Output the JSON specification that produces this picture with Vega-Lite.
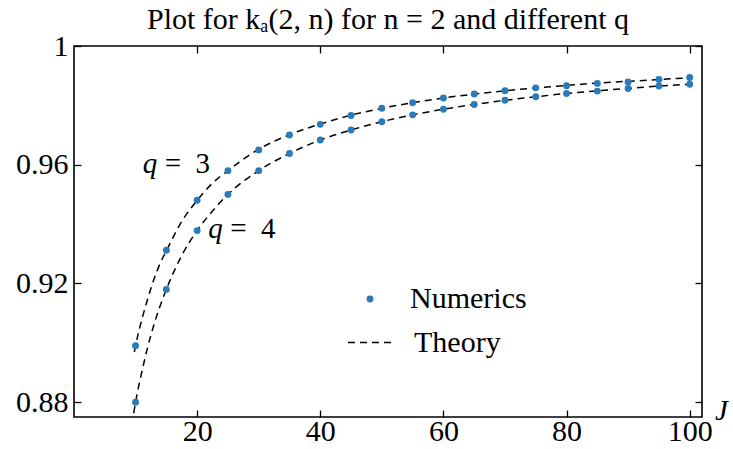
{
  "$schema": "https://vega.github.io/schema/vega-lite/v6.json",
  "width": 628,
  "height": 371,
  "autosize": {"type": "none"},
  "padding": {"left": 74, "top": 46, "right": 31, "bottom": 32},
  "background": "white",
  "title": {
    "text": "Plot for kₐ(2, n) for n = 2 and different q",
    "font": "Liberation Serif",
    "fontSize": 30,
    "fontWeight": "normal",
    "color": "black",
    "anchor": "middle",
    "baseline": "alphabetic",
    "offset": 0,
    "dy": 28
  },
  "config": {
    "view": {"stroke": "black", "strokeWidth": 1.6},
    "axis": {
      "labelFont": "Liberation Serif",
      "labelFontSize": 30,
      "labelColor": "black",
      "tickColor": "black",
      "tickWidth": 1.3,
      "tickSize": -7,
      "domain": false,
      "grid": false
    }
  },
  "datasets": {
    "numerics": [
      {"J": 10, "q": "3", "k": 0.8990},
      {"J": 15, "q": "3", "k": 0.9312},
      {"J": 20, "q": "3", "k": 0.9480},
      {"J": 25, "q": "3", "k": 0.9580},
      {"J": 30, "q": "3", "k": 0.9650},
      {"J": 35, "q": "3", "k": 0.9700},
      {"J": 40, "q": "3", "k": 0.9736},
      {"J": 45, "q": "3", "k": 0.9766},
      {"J": 50, "q": "3", "k": 0.9790},
      {"J": 55, "q": "3", "k": 0.9809},
      {"J": 60, "q": "3", "k": 0.9825},
      {"J": 65, "q": "3", "k": 0.9838},
      {"J": 70, "q": "3", "k": 0.9849},
      {"J": 75, "q": "3", "k": 0.9859},
      {"J": 80, "q": "3", "k": 0.9866},
      {"J": 85, "q": "3", "k": 0.9874},
      {"J": 90, "q": "3", "k": 0.9879},
      {"J": 95, "q": "3", "k": 0.9887},
      {"J": 100, "q": "3", "k": 0.9894},
      {"J": 10, "q": "4", "k": 0.8800},
      {"J": 15, "q": "4", "k": 0.9180},
      {"J": 20, "q": "4", "k": 0.9378},
      {"J": 25, "q": "4", "k": 0.9500},
      {"J": 30, "q": "4", "k": 0.9580},
      {"J": 35, "q": "4", "k": 0.9638},
      {"J": 40, "q": "4", "k": 0.9683},
      {"J": 45, "q": "4", "k": 0.9717},
      {"J": 50, "q": "4", "k": 0.9745},
      {"J": 55, "q": "4", "k": 0.9768},
      {"J": 60, "q": "4", "k": 0.9787},
      {"J": 65, "q": "4", "k": 0.9803},
      {"J": 70, "q": "4", "k": 0.9817},
      {"J": 75, "q": "4", "k": 0.9829},
      {"J": 80, "q": "4", "k": 0.9840},
      {"J": 85, "q": "4", "k": 0.9848},
      {"J": 90, "q": "4", "k": 0.9857},
      {"J": 95, "q": "4", "k": 0.9865},
      {"J": 100, "q": "4", "k": 0.9871}
    ],
    "theory": [
      {"J": 9.8, "q": "3", "k": 0.8969},
      {"J": 10, "q": "3", "k": 0.8990},
      {"J": 11, "q": "3", "k": 0.9077},
      {"J": 12, "q": "3", "k": 0.9150},
      {"J": 13, "q": "3", "k": 0.9215},
      {"J": 14, "q": "3", "k": 0.9268},
      {"J": 15, "q": "3", "k": 0.9310},
      {"J": 17.5, "q": "3", "k": 0.9409},
      {"J": 20, "q": "3", "k": 0.9480},
      {"J": 22.5, "q": "3", "k": 0.9538},
      {"J": 25, "q": "3", "k": 0.9580},
      {"J": 30, "q": "3", "k": 0.9652},
      {"J": 35, "q": "3", "k": 0.9701},
      {"J": 40, "q": "3", "k": 0.9737},
      {"J": 45, "q": "3", "k": 0.9767},
      {"J": 50, "q": "3", "k": 0.9790},
      {"J": 55, "q": "3", "k": 0.9809},
      {"J": 60, "q": "3", "k": 0.9825},
      {"J": 65, "q": "3", "k": 0.9838},
      {"J": 70, "q": "3", "k": 0.9849},
      {"J": 75, "q": "3", "k": 0.9859},
      {"J": 80, "q": "3", "k": 0.9867},
      {"J": 85, "q": "3", "k": 0.9875},
      {"J": 90, "q": "3", "k": 0.9881},
      {"J": 95, "q": "3", "k": 0.9887},
      {"J": 100, "q": "3", "k": 0.9893},
      {"J": 9.7, "q": "4", "k": 0.8763},
      {"J": 10, "q": "4", "k": 0.8800},
      {"J": 11, "q": "4", "k": 0.8900},
      {"J": 12, "q": "4", "k": 0.8988},
      {"J": 13, "q": "4", "k": 0.9062},
      {"J": 14, "q": "4", "k": 0.9125},
      {"J": 15, "q": "4", "k": 0.9180},
      {"J": 17.5, "q": "4", "k": 0.9294},
      {"J": 20, "q": "4", "k": 0.9378},
      {"J": 22.5, "q": "4", "k": 0.9444},
      {"J": 25, "q": "4", "k": 0.9500},
      {"J": 30, "q": "4", "k": 0.9580},
      {"J": 35, "q": "4", "k": 0.9638},
      {"J": 40, "q": "4", "k": 0.9683},
      {"J": 45, "q": "4", "k": 0.9717},
      {"J": 50, "q": "4", "k": 0.9745},
      {"J": 55, "q": "4", "k": 0.9768},
      {"J": 60, "q": "4", "k": 0.9787},
      {"J": 65, "q": "4", "k": 0.9803},
      {"J": 70, "q": "4", "k": 0.9817},
      {"J": 75, "q": "4", "k": 0.9829},
      {"J": 80, "q": "4", "k": 0.9840},
      {"J": 85, "q": "4", "k": 0.9849},
      {"J": 90, "q": "4", "k": 0.9857},
      {"J": 95, "q": "4", "k": 0.9865},
      {"J": 100, "q": "4", "k": 0.9871}
    ],
    "labels": [
      {"J": 11.15, "k": 0.9571, "sym": "q", "rest": "=\u20023"},
      {"J": 21.8, "k": 0.9353, "sym": "q", "rest": "=\u20024"}
    ]
  },
  "resolve": {"axis": {"x": "independent", "y": "independent"}},
  "layer": [
    {
      "data": {"name": "theory"},
      "mark": {"type": "line", "color": "black", "strokeWidth": 1.5, "clip": true, "interpolate": "monotone"},
      "encoding": {
        "x": {
          "field": "J", "type": "quantitative",
          "scale": {"domain": [0, 102], "nice": false, "zero": false},
          "axis": {
            "orient": "bottom", "values": [20, 40, 60, 80, 100], "labelPadding": 6,
            "title": "J", "titleFont": "Liberation Serif", "titleFontSize": 29,
            "titleFontStyle": "italic", "titleFontWeight": "normal", "titleColor": "black",
            "titleX": 647, "titleY": 2, "titleAlign": "center", "titleBaseline": "alphabetic", "titleAngle": 0
          }
        },
        "y": {
          "field": "k", "type": "quantitative",
          "scale": {"domain": [0.875, 1], "nice": false, "zero": false},
          "axis": {"orient": "left", "values": [0.88, 0.92, 0.96, 1], "format": "~g", "labelPadding": 13, "title": null}
        },
        "detail": {"field": "q"},
        "strokeDash": {
          "datum": "Theory",
          "scale": {"range": [[7, 5]]},
          "legend": {
            "orient": "none", "legendX": 273, "legendY": 274, "title": null, "padding": 0,
            "symbolType": "stroke", "symbolSize": 1849, "symbolStrokeColor": "black", "symbolStrokeWidth": 1.5,
            "labelFont": "Liberation Serif", "labelFontSize": 30, "labelColor": "black", "labelOffset": 22
          }
        }
      }
    },
    {
      "data": {"name": "numerics"},
      "mark": {"type": "point", "filled": true, "color": "#2b7bba", "size": 48, "opacity": 1},
      "encoding": {
        "x": {
          "field": "J", "type": "quantitative",
          "axis": {"orient": "top", "values": [20, 40, 60, 80, 100], "labels": false, "title": null}
        },
        "y": {
          "field": "k", "type": "quantitative",
          "axis": {"orient": "right", "values": [0.88, 0.92, 0.96, 1], "labels": false, "title": null}
        },
        "shape": {
          "datum": "Numerics",
          "scale": {"range": ["circle"]},
          "legend": {
            "orient": "none", "legendX": 281, "legendY": 238, "title": null, "padding": 0,
            "symbolSize": 48, "symbolFillColor": "#2b7bba", "symbolStrokeWidth": 0,
            "labelFont": "Liberation Serif", "labelFontSize": 30, "labelColor": "black", "labelOffset": 25
          }
        }
      }
    },
    {
      "data": {"name": "labels"},
      "mark": {"type": "text", "font": "Liberation Serif", "fontSize": 29, "fontStyle": "italic", "align": "left", "baseline": "alphabetic", "color": "black"},
      "encoding": {
        "x": {"field": "J", "type": "quantitative", "axis": null},
        "y": {"field": "k", "type": "quantitative", "axis": null},
        "text": {"field": "sym"}
      }
    },
    {
      "data": {"name": "labels"},
      "mark": {"type": "text", "font": "Liberation Serif", "fontSize": 29, "align": "left", "baseline": "alphabetic", "color": "black", "dx": 22},
      "encoding": {
        "x": {"field": "J", "type": "quantitative", "axis": null},
        "y": {"field": "k", "type": "quantitative", "axis": null},
        "text": {"field": "rest"}
      }
    }
  ]
}
